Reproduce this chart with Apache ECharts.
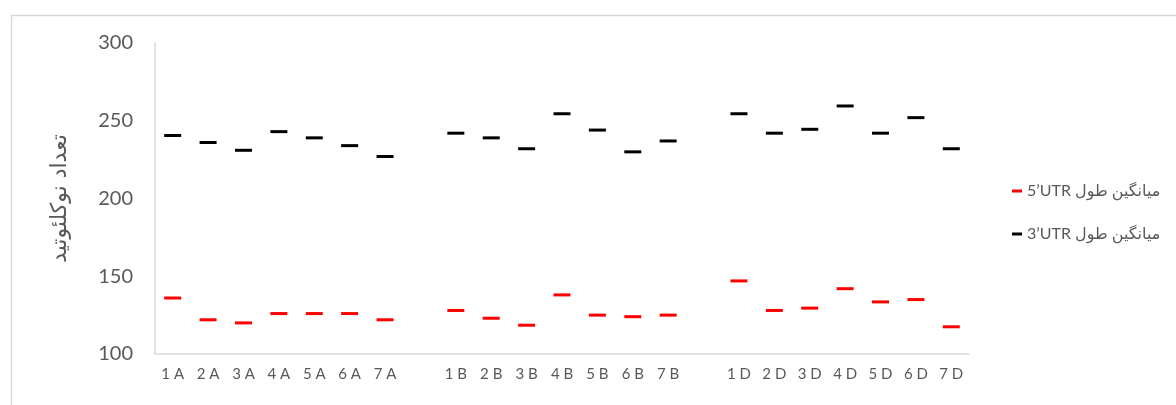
<!DOCTYPE html>
<html>
<head>
<meta charset="utf-8">
<script src="https://cdn.jsdelivr.net/npm/echarts@6/dist/echarts.min.js"></script>
<style>
html,body{margin:0;padding:0;background:#fff;}
#c{width:1176px;height:405px;}
</style>
</head>
<body>
<div id="c"></div>
<script>
const categories = ['1 A','2 A','3 A','4 A','5 A','6 A','7 A','',
                    '1 B','2 B','3 B','4 B','5 B','6 B','7 B','',
                    '1 D','2 D','3 D','4 D','5 D','6 D','7 D'];
const utr5 = [136, 122, 120, 126, 126, 126, 122, '-',
              128, 123, 118.5, 138, 125, 124, 125, '-',
              147, 128, 129.5, 142, 133.5, 135, 117.5];
const utr3 = [240.5, 236, 231, 243, 239, 234, 227, '-',
              242, 239, 232, 254.5, 244, 230, 237, '-',
              254.5, 242, 244.5, 259.5, 242, 252, 232];
const yTicks = [100, 150, 200, 250, 300];
const name5 = '\u2067میانگین طول \u20665’UTR\u2069\u2069';
const name3 = '\u2067میانگین طول \u20663’UTR\u2069\u2069';
const yName = 'تعداد نوکلئوتید';

const chart = echarts.init(document.getElementById('c'), null, {renderer: 'canvas'});
const font = "Lato, 'DejaVu Sans', sans-serif";
chart.setOption({
  backgroundColor: '#ffffff',
  animation: false,
  textStyle: {fontFamily: font},
  graphic: [{
    type: 'rect', left: 9, top: 13, silent: true,
    shape: {width: 1200, height: 420},
    style: {fill: 'none', stroke: '#d9d9d9', lineWidth: 1.5}
  }],
  grid: {left: 155, top: 43, right: 207, bottom: 51},
  legend: {
    orient: 'vertical', left: 1007, top: 178,
    itemWidth: 10, itemHeight: 3, itemGap: 27,
    icon: 'rect',
    textStyle: {color: '#595959', fontSize: 16, fontFamily: font},
    data: [name5, name3]
  },
  xAxis: {
    type: 'category', data: categories,
    axisLine: {lineStyle: {color: '#d9d9d9', width: 1.5}},
    axisTick: {show: false},
    axisLabel: {color: '#595959', fontSize: 15, margin: 13, interval: 0, fontFamily: font},
    splitLine: {show: false}
  },
  yAxis: {
    type: 'value', min: yTicks[0], max: yTicks[yTicks.length - 1], interval: 50,
    name: yName, nameLocation: 'middle', nameGap: 84,
    nameTextStyle: {color: '#595959', fontSize: 22, fontFamily: "'DejaVu Sans', sans-serif"},
    axisLine: {show: true, lineStyle: {color: '#d9d9d9', width: 1.5}},
    axisTick: {show: false},
    axisLabel: {color: '#595959', fontSize: 20, margin: 22, fontFamily: font},
    splitLine: {show: false}
  },
  series: [
    {name: name5, type: 'scatter', data: utr5, symbol: 'rect', symbolSize: [17, 3],
     itemStyle: {color: '#ff0000', opacity: 1}},
    {name: name3, type: 'scatter', data: utr3, symbol: 'rect', symbolSize: [17, 3],
     itemStyle: {color: '#000000', opacity: 1}}
  ]
});
</script>
</body>
</html>
